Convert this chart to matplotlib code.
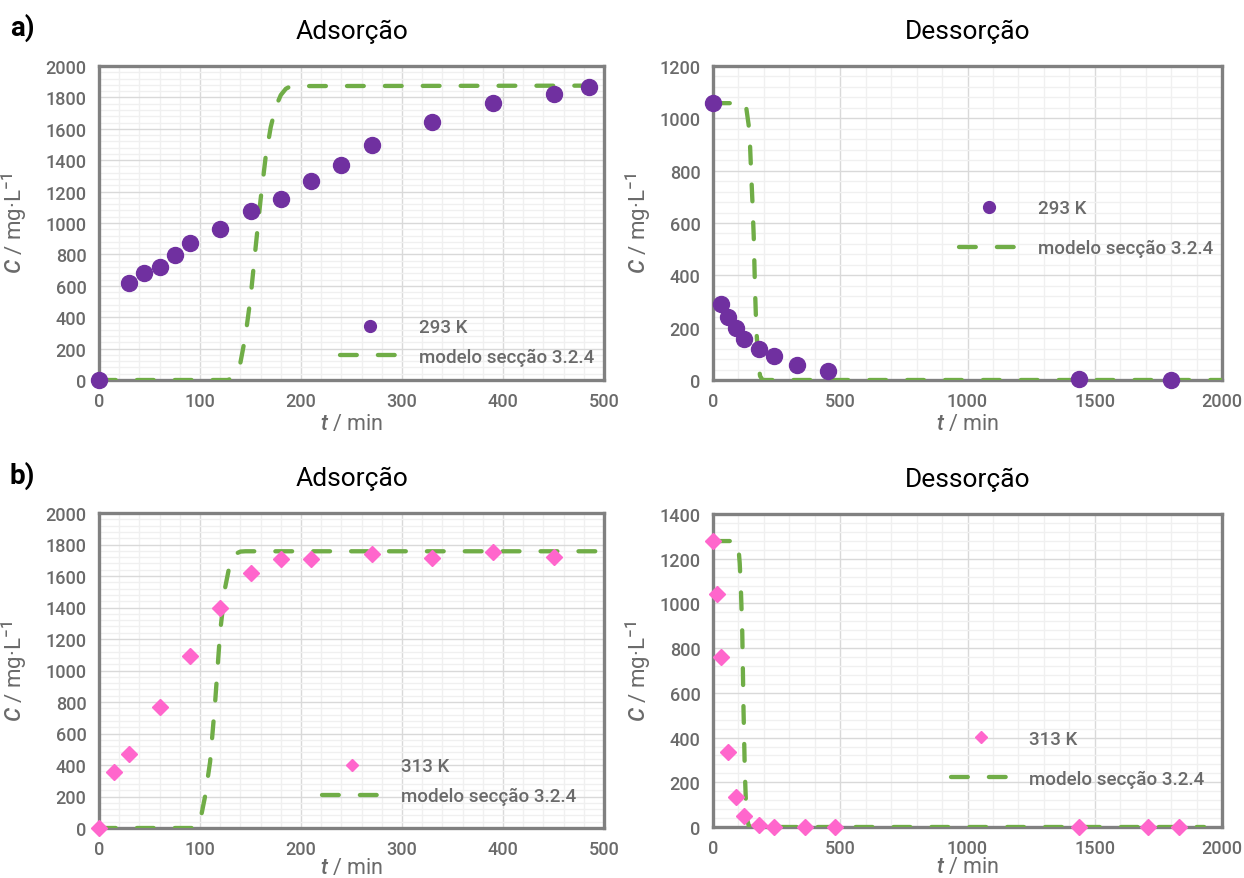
import matplotlib
matplotlib.use('Agg')
import matplotlib.pyplot as plt
from matplotlib.ticker import MultipleLocator, AutoMinorLocator

plt.rcParams['font.family'] = ['Roboto', 'DejaVu Sans']
plt.rcParams['font.weight'] = 'medium'
plt.rcParams['mathtext.fontset'] = 'custom'
plt.rcParams['mathtext.it'] = 'Roboto:italic:medium'
plt.rcParams['mathtext.rm'] = 'Roboto:medium'

# a) 293 K
a_ads_t = [0, 30, 45, 60, 75, 90, 120, 150, 180, 210, 240, 270, 330, 390, 450, 485]
a_ads_c = [0, 620, 682, 722, 793, 870, 960, 1078, 1153, 1265, 1372, 1496, 1646, 1762, 1824, 1869]
a_ads_mod_t = [0, 128, 135, 140, 145, 150, 155, 160, 165, 170, 175, 180, 185, 190, 500]
a_ads_mod_c = [0, 0, 30, 110, 280, 520, 840, 1150, 1420, 1610, 1740, 1815, 1855, 1872, 1875]

a_des_t = [0, 30, 60, 90, 120, 180, 240, 330, 450, 1440, 1800]
a_des_c = [1058, 292, 242, 200, 158, 117, 90, 58, 35, 2, 0]
a_des_mod_t = [0, 125, 130, 135, 140, 145, 150, 155, 160, 165, 170, 175, 180, 185, 195, 2000]
a_des_mod_c = [1058, 1058, 1045, 1010, 975, 910, 790, 680, 550, 350, 200, 120, 50, 15, 0, 0]

# b) 313 K
b_ads_t = [0, 15, 30, 60, 90, 120, 150, 180, 210, 270, 330, 390, 450]
b_ads_c = [0, 357, 471, 769, 1089, 1397, 1618, 1705, 1705, 1741, 1715, 1752, 1720]
b_ads_mod_t = [0, 97, 100, 105, 110, 115, 120, 125, 130, 135, 140, 145, 500]
b_ads_mod_c = [0, 0, 40, 200, 420, 800, 1250, 1530, 1690, 1740, 1755, 1757, 1757]

b_des_t = [0, 15, 30, 60, 90, 120, 180, 240, 360, 480, 1440, 1710, 1830]
b_des_c = [1279, 1043, 761, 334, 133, 50, 8, 0, 0, 0, 0, 0, 0]
b_des_mod_t = [0, 95, 100, 105, 110, 115, 120, 125, 130, 135, 140, 145, 1930]
b_des_mod_c = [1279, 1279, 1250, 1180, 1050, 870, 520, 250, 90, 30, 8, 0, 0]

purple = '#7030A0'
pink = '#FF66CC'
green = '#70AD47'
gray_txt = '#6A6A6A'

fig = plt.figure(figsize=(12.44, 8.79), dpi=100)

W, H = 1244, 879
def box(x0, y0, x1, y1):
    return [x0 / W, 1 - y1 / H, (x1 - x0) / W, (y1 - y0) / H]

ax1 = fig.add_axes(box(99, 67, 604, 381))
ax2 = fig.add_axes(box(713, 67, 1222, 381))
ax3 = fig.add_axes(box(99, 514, 604, 829))
ax4 = fig.add_axes(box(713, 515, 1222, 828))


def style(ax, xmax, xstep, ymax, ystep, title):
    ax.set_xlim(0, xmax)
    ax.set_ylim(0, ymax)
    ax.xaxis.set_major_locator(MultipleLocator(xstep))
    ax.yaxis.set_major_locator(MultipleLocator(ystep))
    ax.xaxis.set_minor_locator(AutoMinorLocator(5))
    ax.yaxis.set_minor_locator(AutoMinorLocator(5))
    ax.grid(which='major', color='#D9D9D9', lw=1.0, zorder=0)
    ax.grid(which='minor', color='#F0F0F0', lw=1.0, zorder=0)
    ax.set_axisbelow(True)
    for s in ax.spines.values():
        s.set_color('#808080')
        s.set_linewidth(2.4)
    ax.tick_params(which='both', length=0, labelsize=13, labelcolor=gray_txt)
    ax.tick_params(axis='y', pad=9)
    ax.tick_params(axis='x', pad=9)
    ax.set_xlabel(r'$t$ / min', fontsize=15.5, color=gray_txt, labelpad=0)
    ax.set_ylabel(r'$C$ / mg·L$^{-1}$', fontsize=16, color=gray_txt)
    ax.set_title(title, fontsize=19, color='black', pad=20, fontweight='normal')


def draw(ax, t, c, mt, mc, marker, color, ms, lms, label, lx, ly, spacing):
    ax.plot(t, c, ls='none', marker=marker, color=color, ms=ms,
            clip_on=False, zorder=4, label=label)
    ax.plot(mt, mc, color=green, lw=3.1, dashes=(3.9, 4.9),
            dash_capstyle='round', zorder=3, label='modelo secção 3.2.4')
    leg = ax.legend(loc='upper left', bbox_to_anchor=(lx, ly), frameon=False,
                    fontsize=13.5, handlelength=3.2, handletextpad=1.0,
                    labelspacing=spacing, borderpad=0, borderaxespad=0,
                    markerscale=lms / ms, numpoints=1)
    for txt in leg.get_texts():
        txt.set_color(gray_txt)


style(ax1, 500, 100, 2000, 200, 'Adsorção')
style(ax2, 2000, 500, 1200, 200, 'Dessorção')
style(ax3, 500, 100, 2000, 200, 'Adsorção')
style(ax4, 2000, 500, 1400, 200, 'Dessorção')

ax1.xaxis.set_label_coords(0.5, -0.105)
ax2.xaxis.set_label_coords(0.5, -0.105)
ax3.xaxis.set_label_coords(0.5, -0.091)
ax4.xaxis.set_label_coords(0.5, -0.094)
ax1.yaxis.set_label_coords(-0.136, 0.5)
ax3.yaxis.set_label_coords(-0.136, 0.5)
ax2.yaxis.set_label_coords(-0.116, 0.5)
ax4.yaxis.set_label_coords(-0.116, 0.5)

draw(ax1, a_ads_t, a_ads_c, a_ads_mod_t, a_ads_mod_c, 'o', purple, 11.5, 8.5,
     '293 K', 0.477, 0.197, 0.62)
draw(ax2, a_des_t, a_des_c, a_des_mod_t, a_des_mod_c, 'o', purple, 11.5, 8.5,
     '293 K', 0.484, 0.576, 1.17)
draw(ax3, b_ads_t, b_ads_c, b_ads_mod_t, b_ads_mod_c, 'D', pink, 8.0, 5.8,
     '313 K', 0.442, 0.224, 0.62)
draw(ax4, b_des_t, b_des_c, b_des_mod_t, b_des_mod_c, 'D', pink, 8.0, 5.8,
     '313 K', 0.467, 0.310, 1.17)

fig.text(22 / W, 1 - 28 / H, 'a)', fontsize=20, fontweight='bold', ha='center', va='center')
fig.text(22 / W, 1 - 476 / H, 'b)', fontsize=20, fontweight='bold', ha='center', va='center')

fig.savefig('out.png', dpi=100)
